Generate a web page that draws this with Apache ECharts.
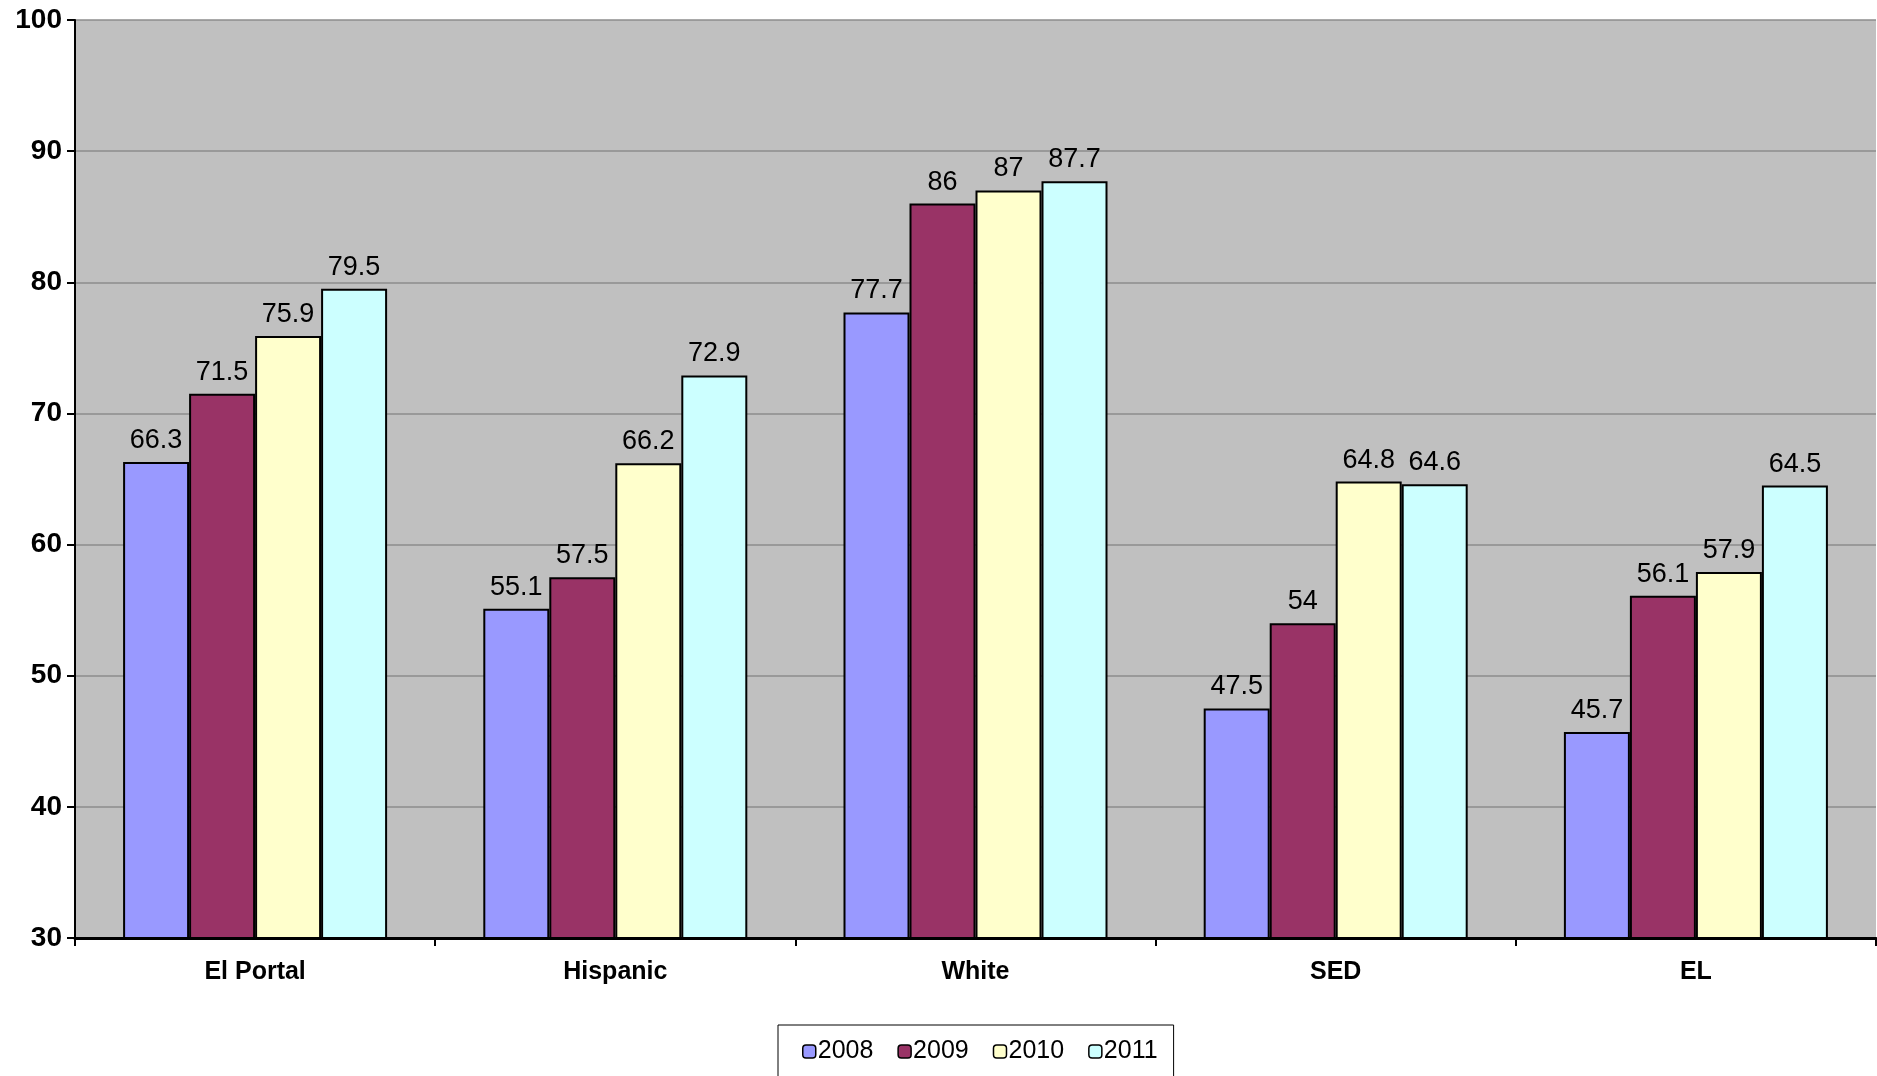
<!DOCTYPE html>
<html>
<head>
<meta charset="utf-8">
<script src="https://cdn.jsdelivr.net/npm/echarts@6/dist/echarts.min.js"></script>
<style>
html,body{margin:0;padding:0;background:#fff;}
#chart{width:1877px;height:1076px;}
</style>
</head>
<body>
<div id="chart"></div>
<script>
const categories = ['El Portal', 'Hispanic', 'White', 'SED', 'EL'];
const seriesNames = ['2008', '2009', '2010', '2011'];
const values2008 = [66.3, 55.1, 77.7, 47.5, 45.7];
const values2009 = [71.5, 57.5, 86, 54, 56.1];
const values2010 = [75.9, 66.2, 87, 64.8, 57.9];
const values2011 = [79.5, 72.9, 87.7, 64.6, 64.5];
const colors = ['#9999FF', '#993366', '#FFFFCC', '#CCFFFF'];
const yMin = 30, yMax = 100, yInterval = 10;

const FONT = '"Liberation Sans", Arial, sans-serif';
const allValues = [values2008, values2009, values2010, values2011];

const chart = echarts.init(document.getElementById('chart'));
chart.setOption({
  animation: false,
  backgroundColor: '#ffffff',
  grid: {
    left: 75, top: 20, right: 1, bottom: 138,
    show: true, backgroundColor: '#C0C0C0', borderWidth: 0
  },
  legend: {
    data: seriesNames,
    left: 778, top: 1025,
    padding: [14, 16, 14, 24],
    itemGap: 24,
    itemWidth: 13, itemHeight: 13,
    backgroundColor: '#ffffff',
    borderColor: '#000000', borderWidth: 1,
    itemStyle: { borderWidth: 1.5, borderColor: '#000' },
    textStyle: { fontFamily: FONT, fontSize: 25, color: '#000', padding: [0, 0, 0, -3] }
  },
  xAxis: {
    type: 'category',
    data: categories,
    boundaryGap: true,
    axisLine: { lineStyle: { color: '#000', width: 3 } },
    axisTick: { show: true, alignWithLabel: false, length: 8, lineStyle: { color: '#000', width: 2 } },
    axisLabel: { fontFamily: FONT, fontSize: 25, fontWeight: 'bold', color: '#000', margin: 22 }
  },
  yAxis: {
    type: 'value',
    min: yMin, max: yMax, interval: yInterval,
    axisLine: { show: true, lineStyle: { color: '#000', width: 2 } },
    axisTick: { show: true, length: 8, lineStyle: { color: '#000', width: 2 } },
    axisLabel: { fontFamily: FONT, fontSize: 28, fontWeight: 'bold', color: '#000', margin: 13 },
    splitLine: { show: true, lineStyle: { color: '#8c8c8c', width: 1.5 } }
  },
  series: seriesNames.map((name, i) => ({
    name: name,
    type: 'bar',
    data: allValues[i],
    barWidth: 66,
    barGap: '0%',
    itemStyle: { color: colors[i], borderColor: '#000', borderWidth: 2 },
    label: {
      show: true, position: 'top', distance: 8,
      fontFamily: FONT, fontSize: 27, color: '#000'
    }
  }))
});
</script>
</body>
</html>
